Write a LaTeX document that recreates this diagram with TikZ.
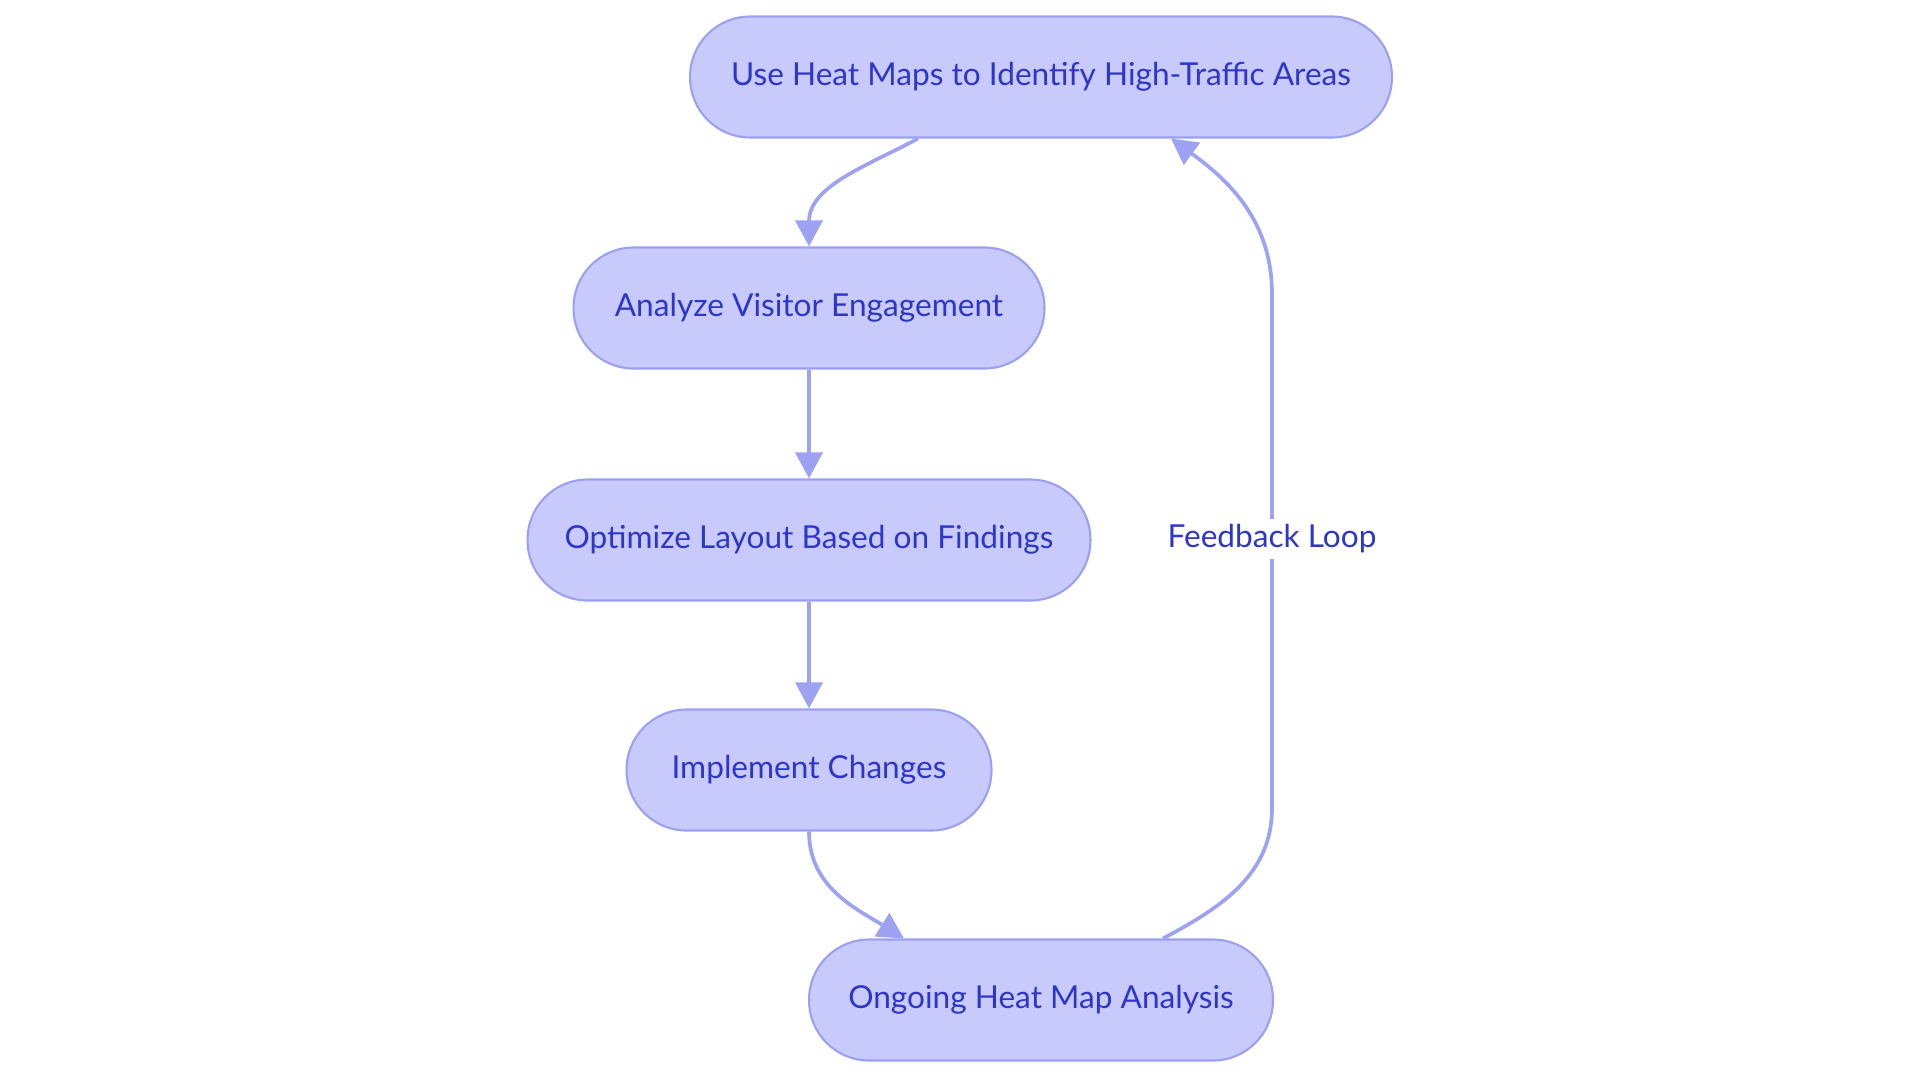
\documentclass[tikz,border=0pt]{standalone}
\usepackage{fontspec}
\setmainfont{Lato}
\usetikzlibrary{arrows.meta}

\definecolor{boxfill}{RGB}{200,202,252}
\definecolor{boxline}{RGB}{155,160,240}
\definecolor{boxtext}{RGB}{45,54,200}
\definecolor{flowline}{RGB}{158,162,242}

\tikzset{
  stage/.style={draw=boxline, line width=1.2pt, fill=boxfill, text=boxtext,
    rounded corners=1.2cm, minimum height=2.42cm, font=\fontsize{18}{22}\selectfont},
  flow/.style={draw=flowline, line width=2.1pt, -{Triangle[length=0.52cm,width=0.54cm]}}
}

\begin{document}
\begin{tikzpicture}[x=0.02cm, y=-0.02cm]

\useasboundingbox (0,0) rectangle (1920,1083);

\node[stage, minimum width=14.04cm] (heatmaps) at (1041,77) {Use Heat Maps to Identify High-Traffic Areas};

\node[stage, minimum width=9.42cm] (analyze) at (809,308) {Analyze Visitor Engagement};

\node[stage, minimum width=11.26cm] (optimize) at (809,540) {Optimize Layout Based on Findings};

\node[stage, minimum width=7.3cm] (implement) at (809,770) {Implement Changes};

\node[stage, minimum width=9.28cm] (ongoing) at (1041,1000) {Ongoing Heat Map Analysis};

\coordinate (loopbot) at (1272,808);
\coordinate (looptop) at (1272,294);

\draw[flow] ([xshift=-2.46cm]heatmaps.south) to[out=208,in=90] (analyze.north);

\draw[flow] (analyze) -- (optimize);

\draw[flow] (optimize) -- (implement);

\draw[flow] (implement.south) to[out=-90,in=148] ([xshift=-2.74cm]ongoing.north);

\draw[flow] ([xshift=2.44cm]ongoing.north) to[out=28,in=-90] (loopbot) -- (looptop)
  to[out=90,in=-36] ([xshift=2.6cm]heatmaps.south);

\node[fill=white, text=boxtext, font=\fontsize{18}{22}\selectfont] (feedback) at (1272,539) {Feedback Loop};

\end{tikzpicture}
\end{document}
